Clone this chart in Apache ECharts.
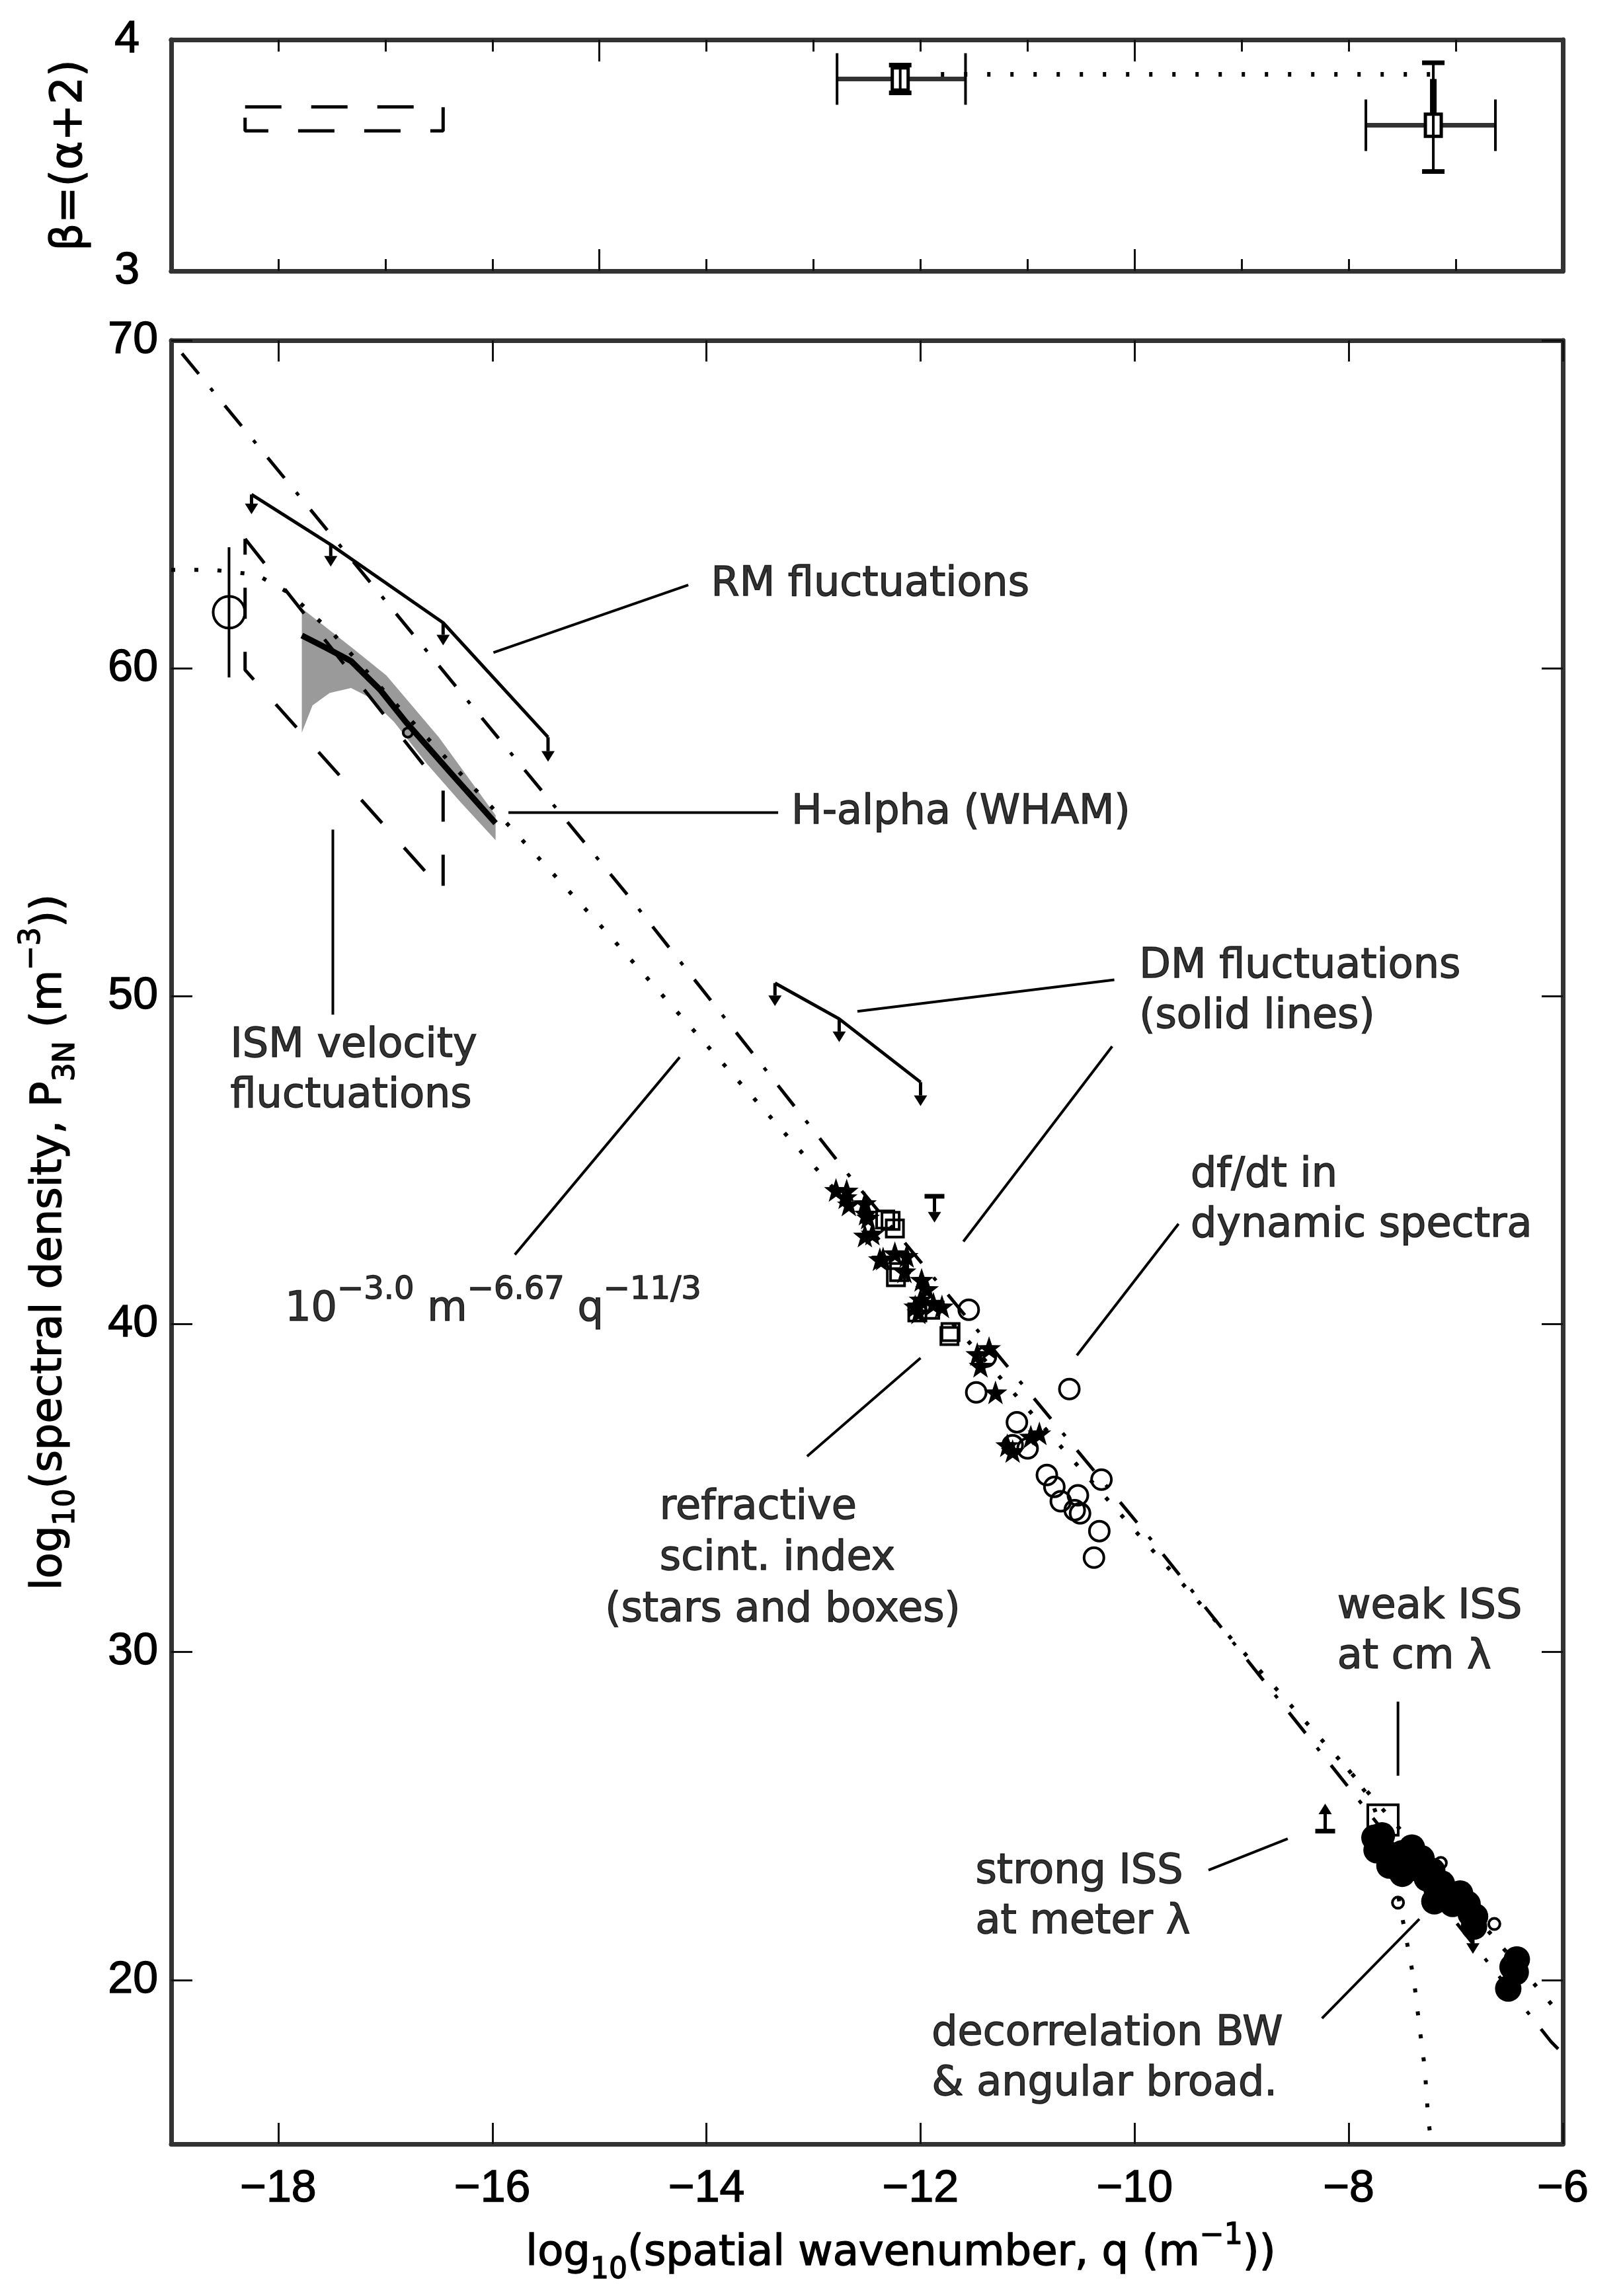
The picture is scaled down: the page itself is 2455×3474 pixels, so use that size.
<!DOCTYPE html>
<html lang="en">
<head>
<meta charset="UTF-8">
<title>Electron density power spectrum</title>
<style>
  html, body { margin: 0; padding: 0; background: #fff; }
  #main { width: 2455px; height: 3474px; }
</style>
</head>
<body>
<div id="main"></div>
<script src="https://cdn.jsdelivr.net/npm/echarts@6/dist/echarts.min.js"></script>
<script>
  const FONT_TEXT = 'DejaVu Sans';
  const FONT_TICK = 'Liberation Sans';
  const INK = '#000';

  // ---- top panel: beta = alpha + 2 ----
  const betaMinorTicks = [-18, -17, -16, -15, -14, -13, -12, -11, -10, -9, -8, -7];
  const betaMajorTicks = [-15, -10];
  const betaTickLabels = [3, 4];
  const betaIsmBox = [[-18.31, 3.709], [-16.46, 3.709], [-16.46, 3.606], [-18.31, 3.606], [-18.31, 3.709]];
  // [x, y, xLow, xHigh, yLow, yHigh]
  const betaPoints = [
    [-12.19, 3.83, -12.78, -11.58, 3.77, 3.89],
    [-7.21, 3.63, -7.84, -6.63, 3.43, 3.90]
  ];
  const betaThickBar = [[-7.21, 3.59], [-7.21, 3.83]];
  const betaDotted = [[-11.81, 3.85], [-7.24, 3.85]];

  // ---- main panel ----
  const xTicks = [-18, -16, -14, -12, -10, -8, -6];
  const yTicks = [20, 30, 40, 50, 60, 70];

  const dashDotLine = [[-18.9, 69.6], [-14.72, 53.02], [-12.65, 44.46], [-9.8, 33.25], [-6.11, 18.12], [-6.0, 17.75]];
  const kolmogorovLine = [[-19.0, 63.0], [-18.6, 63.0], [-18.2, 62.85], [-17.9, 62.3], [-17.5, 61.1], [-16.9, 58.9],
    [-15.81, 55.08], [-14.93, 51.94], [-12.92, 44.54], [-10.08, 34.01], [-8.0, 26.4], [-6.22, 19.7], [-6.0, 18.85]];
  const innerScaleLine = [[-8.0, 26.4], [-7.79, 25.5], [-7.62, 23.9], [-7.55, 22.78], [-7.47, 21.39], [-7.39, 19.98],
    [-7.34, 18.59], [-7.29, 17.32], [-7.26, 15.89], [-7.23, 15.0]];
  const ismVelocityBox = [[-18.31, 63.95], [-16.46, 56.3], [-16.46, 53.2], [-18.31, 59.95], [-18.31, 63.95]];

  const whamUpper = [[-17.78, 61.83], [-17.3, 60.6], [-16.99, 59.78], [-16.5, 57.9], [-15.97, 55.52]];
  const whamLower = [[-17.78, 58.04], [-17.68, 58.87], [-17.52, 59.25], [-17.32, 59.4], [-17.16, 59.13], [-16.92, 58.37],
    [-16.61, 57.08], [-16.3, 55.93], [-15.97, 54.76]];
  const whamSpectrum = [[-17.78, 61.0], [-17.55, 60.62], [-17.32, 60.22], [-17.05, 59.35], [-16.81, 58.37], [-16.4, 56.85], [-15.97, 55.28]];
  const whamCircle = [[-16.79, 58.04]];

  const bigCircle = [[-18.46, 61.71]];
  const bigCircleBar = [[-18.46, 59.72], [-18.46, 63.69]];

  const rmLine = [[-18.25, 65.3], [-17.51, 63.77], [-16.46, 61.39], [-15.48, 57.9]];
  const dmLine = [[-13.36, 50.4], [-12.76, 49.31], [-12.0, 47.38]];
  // [x, from, to, bar]
  const limitArrows = [
    [-18.25, 65.3, 64.7, 0], [-17.51, 63.77, 63.1, 0], [-16.46, 61.39, 60.7, 0], [-15.48, 57.9, 57.15, 0],
    [-13.36, 50.4, 49.7, 0], [-12.76, 49.31, 48.6, 0], [-12.0, 47.38, 46.65, 0],
    [-11.87, 43.9, 43.1, 1], [-6.84, 21.55, 20.8, 0], [-8.22, 24.54, 25.38, 1]
  ];

  const refractiveStars = [[-12.79, 44.09], [-12.69, 44.07], [-12.70, 43.87], [-12.67, 43.65], [-12.52, 43.69], [-12.49, 43.25],
    [-12.51, 43.37], [-12.52, 42.7], [-12.45, 42.76], [-12.38, 41.98], [-12.35, 42.0], [-12.24, 42.16], [-12.13, 42.08],
    [-12.15, 41.61], [-11.99, 41.35], [-11.94, 41.07], [-12.02, 40.36], [-12.05, 40.54], [-11.88, 40.62], [-11.80, 40.54],
    [-12.0, 40.75], [-11.44, 38.73], [-11.47, 39.09], [-11.36, 39.27], [-11.30, 37.92], [-11.14, 36.13], [-11.19, 36.31],
    [-10.97, 36.57], [-10.89, 36.67]];
  const refractiveBoxes = [[-12.33, 43.19], [-12.28, 43.15], [-12.24, 42.92], [-12.23, 41.43], [-12.2, 41.59],
    [-11.91, 40.44], [-12.03, 40.36], [-11.73, 39.64], [-11.72, 39.76]];
  const dfdtCircles = [[-11.55, 40.44], [-11.39, 39.01], [-11.48, 37.92], [-10.61, 38.02], [-11.10, 37.01], [-11.14, 36.31],
    [-11.0, 36.21], [-10.82, 35.4], [-10.75, 35.04], [-10.31, 35.26], [-10.69, 34.6], [-10.53, 34.78], [-10.51, 34.23],
    [-10.56, 34.33], [-10.33, 33.69], [-10.38, 32.88]];

  const strongIss = [[-7.76, 24.34], [-7.74, 23.96], [-7.69, 24.04], [-7.69, 24.41], [-7.62, 23.49], [-7.6, 23.71],
    [-7.5, 23.57], [-7.5, 23.87], [-7.5, 23.24], [-7.41, 24.04], [-7.36, 23.41], [-7.32, 23.71], [-7.27, 23.1],
    [-7.22, 23.33], [-7.2, 22.4], [-7.18, 22.78], [-7.13, 22.94], [-7.08, 22.64], [-7.03, 22.32], [-6.99, 22.56],
    [-6.96, 22.64], [-6.91, 22.32], [-6.89, 22.32], [-6.86, 22.01], [-6.82, 21.94], [-6.83, 21.63],
    [-6.47, 20.4], [-6.43, 20.63], [-6.44, 20.24], [-6.51, 19.74]];
  const weakIssBox = [[-7.68, 24.88]];
  const decorrelationCircles = [[-7.14, 23.57], [-6.64, 21.71], [-7.54, 22.36]];

  const annotations = [
    { text: 'RM fluctuations', at: [-13.96, 62.54] },
    { text: 'H-alpha (WHAM)', at: [-13.21, 55.6] },
    { text: 'ISM velocity\nfluctuations', at: [-18.45, 47.72] },
    { text: '10{sup|−3.0} m{sup|−6.67} q{sup|−11/3}', at: [-17.94, 40.44], lineHeight: 106 },
    { text: 'DM fluctuations\n(solid lines)', at: [-9.96, 50.14] },
    { text: 'df/dt in\ndynamic spectra', at: [-9.48, 43.77] },
    { text: 'refractive', at: [-14.44, 34.39] },
    { text: 'scint. index', at: [-14.44, 32.84] },
    { text: '(stars and boxes)', at: [-14.95, 31.27] },
    { text: 'weak ISS\nat cm λ', at: [-8.11, 30.6] },
    { text: 'strong ISS\nat meter λ', at: [-11.49, 22.52] },
    { text: 'decorrelation BW\n& angular broad.', at: [-11.9, 17.58] }
  ];
  const leaders = [
    [[-15.99, 60.48], [-14.17, 62.54]],
    [[-15.85, 55.6], [-13.33, 55.6]],
    [[-17.49, 55.08], [-17.49, 49.44]],
    [[-15.79, 42.12], [-14.25, 48.14]],
    [[-12.59, 49.54], [-10.19, 50.5]],
    [[-11.6, 42.52], [-10.21, 48.47]],
    [[-10.54, 39.05], [-9.59, 43.06]],
    [[-13.06, 35.97], [-12.0, 38.97]],
    [[-7.54, 28.49], [-7.54, 26.23]],
    [[-9.31, 23.35], [-8.57, 24.31]],
    [[-8.25, 18.83], [-7.34, 21.86]]
  ];

  const STAR = 'path://M0,-10L2.35,-3.24L9.51,-3.09L3.8,1.23L5.88,8.09L0,4L-5.88,8.09L-3.8,1.23L-9.51,-3.09L-2.35,-3.24Z';
  const minusFmt = v => (v < 0 ? '−' + Math.abs(v) : String(v));
  // a thin outline in the ink colour makes the text as heavy as the scanned original
  const heavy = { textBorderColor: INK, textBorderWidth: 1.4 };

  function line(data, lineStyle, xi, yi, z) {
    return {
      type: 'line', xAxisIndex: xi || 0, yAxisIndex: yi || 0, data: data, symbol: 'none', silent: true,
      animation: false, z: z || 3,
      lineStyle: Object.assign({ color: INK, width: 4, cap: 'butt' }, lineStyle)
    };
  }
  function markers(data, symbol, size, filled, z) {
    return {
      type: 'scatter', xAxisIndex: 0, yAxisIndex: 0, data: data, symbol: symbol, symbolSize: size,
      silent: true, animation: false, z: z || 5,
      itemStyle: filled ? { color: INK, opacity: 1 } : { color: 'rgba(0,0,0,0)', borderColor: INK, borderWidth: 4, opacity: 1 }
    };
  }

  const axisLine = { show: true, onZero: false, lineStyle: { color: '#333', width: 7 } };
  const tickLine = { color: '#111', width: 3 };
  const noLabel = { show: false };
  const tickLabel = Object.assign({ color: INK, fontFamily: FONT_TICK, fontSize: 68 }, heavy);
  const subSup = {
    sub: Object.assign({ fontSize: 44, lineHeight: 46, verticalAlign: 'bottom', fontFamily: FONT_TEXT, color: INK }, heavy),
    sup: Object.assign({ fontSize: 44, lineHeight: 44, verticalAlign: 'top', fontFamily: FONT_TEXT, color: INK }, heavy)
  };

  function xAxisOf(grid, pos, ticks, len, label, extra) {
    return Object.assign({
      gridIndex: grid, type: 'value', min: -19, max: -6, position: pos, axisLine: axisLine,
      splitLine: { show: false },
      axisTick: { show: true, inside: true, length: len, lineStyle: tickLine, customValues: ticks },
      axisLabel: label
    }, extra || {});
  }

  const chart = echarts.init(document.getElementById('main'));

  const option = {
    animation: false,
    backgroundColor: '#fff',
    grid: [
      { left: 259, right: 91, top: 60, height: 350 },
      { left: 259, right: 91, top: 515, bottom: 230 }
    ],
    xAxis: [
      xAxisOf(1, 'bottom', xTicks, 32,
        Object.assign({ customValues: xTicks, margin: 34, formatter: minusFmt }, tickLabel), {
          name: 'log{sub|10}(spatial wavenumber, q (m{sup|−1}))',
          nameLocation: 'middle', nameGap: 118,
          nameTextStyle: Object.assign({
            color: INK, fontFamily: FONT_TEXT, fontSize: 64, lineHeight: 96, padding: [0, 0, 0, 102], rich: subSup
          }, heavy)
        }),
      xAxisOf(1, 'top', xTicks, 32, noLabel),
      xAxisOf(0, 'bottom', betaMinorTicks, 18, noLabel),
      xAxisOf(0, 'bottom', betaMajorTicks, 33, noLabel),
      xAxisOf(0, 'top', betaMinorTicks, 18, noLabel),
      xAxisOf(0, 'top', betaMajorTicks, 33, noLabel)
    ],
    yAxis: [
      {
        gridIndex: 1, type: 'value', min: 15, max: 70, position: 'left', axisLine: axisLine,
        splitLine: { show: false },
        axisTick: { show: true, inside: true, length: 32, lineStyle: tickLine, customValues: yTicks },
        axisLabel: Object.assign({ customValues: yTicks, margin: 20 }, tickLabel),
        name: 'log{sub|10}(spectral density, P{sub|3N} (m{sup|−3}))',
        nameLocation: 'middle', nameRotate: 90, nameGap: 136,
        nameTextStyle: Object.assign({
          color: INK, fontFamily: FONT_TEXT, fontSize: 64, lineHeight: 96, rich: subSup
        }, heavy)
      },
      {
        gridIndex: 1, type: 'value', min: 15, max: 70, position: 'right', axisLine: axisLine,
        splitLine: { show: false },
        axisTick: { show: true, inside: true, length: 32, lineStyle: tickLine, customValues: yTicks },
        axisLabel: noLabel
      },
      {
        gridIndex: 0, type: 'value', min: 3, max: 4, position: 'left', axisLine: axisLine,
        splitLine: { show: false }, axisTick: { show: false },
        axisLabel: Object.assign({ customValues: betaTickLabels, margin: 48 }, tickLabel),
        name: 'β=(α+2)', nameLocation: 'middle', nameRotate: 90, nameGap: 120,
        nameTextStyle: Object.assign({ color: INK, fontFamily: FONT_TEXT, fontSize: 66 }, heavy)
      },
      {
        gridIndex: 0, type: 'value', min: 3, max: 4, position: 'right', axisLine: axisLine,
        splitLine: { show: false }, axisTick: { show: false }, axisLabel: noLabel
      }
    ],
    series: [
      // ---- top panel ----
      line(betaIsmBox, { type: [55, 45], width: 5 }, 2, 2),
      line(betaDotted, { type: [5, 30], width: 7 }, 2, 2),
      line(betaThickBar, { width: 10 }, 2, 2),
      {
        type: 'custom', xAxisIndex: 2, yAxisIndex: 2, silent: true, animation: false, z: 4,
        data: betaPoints,
        encode: { x: [0, 2, 3], y: [1, 4, 5] },
        renderItem: (params, api) => {
          const c = api.coord([api.value(0), api.value(1)]);
          const xl = api.coord([api.value(2), api.value(1)]);
          const xh = api.coord([api.value(3), api.value(1)]);
          const yl = api.coord([api.value(0), api.value(4)]);
          const yh = api.coord([api.value(0), api.value(5)]);
          const st = { stroke: INK, lineWidth: 4 };
          const capH = 39, capW = 17, box = 12;
          return {
            type: 'group',
            children: [
              { type: 'line', shape: { x1: xl[0], y1: c[1], x2: xh[0], y2: c[1] }, style: { stroke: '#333', lineWidth: 7 } },
              { type: 'line', shape: { x1: xl[0], y1: c[1] - capH, x2: xl[0], y2: c[1] + capH }, style: st },
              { type: 'line', shape: { x1: xh[0], y1: c[1] - capH, x2: xh[0], y2: c[1] + capH }, style: st },
              { type: 'line', shape: { x1: c[0], y1: yl[1], x2: c[0], y2: yh[1] }, style: st },
              { type: 'line', shape: { x1: c[0] - capW, y1: yl[1], x2: c[0] + capW, y2: yl[1] }, style: { stroke: INK, lineWidth: 7 } },
              { type: 'line', shape: { x1: c[0] - capW, y1: yh[1], x2: c[0] + capW, y2: yh[1] }, style: { stroke: INK, lineWidth: 7 } },
              { type: 'rect', shape: { x: c[0] - box, y: c[1] - box * 1.4, width: box * 2, height: box * 2.8 },
                style: { fill: '#fff', stroke: INK, lineWidth: 5 } },
              { type: 'line', shape: { x1: c[0], y1: c[1] - box * 1.4, x2: c[0], y2: c[1] + box * 1.4 }, style: st }
            ]
          };
        }
      },

      // ---- main panel ----
      {
        type: 'custom', xAxisIndex: 0, yAxisIndex: 0, silent: true, animation: false, z: 1,
        data: whamUpper.concat(whamLower.slice().reverse()),
        renderItem: (params, api) => {
          if (params.dataIndex !== 0) return null;
          const pts = whamUpper.concat(whamLower.slice().reverse()).map(p => api.coord(p));
          return { type: 'polygon', shape: { points: pts }, style: { fill: '#9a9a9a' } };
        }
      },
      line(whamSpectrum, { width: 9 }, 0, 0, 4),
      line(dashDotLine, { type: [40, 28, 6, 28], width: 5 }),
      line(kolmogorovLine, { type: [6, 29], width: 6 }),
      line(innerScaleLine, { type: [6, 29], width: 6 }),
      line(ismVelocityBox, { type: [47, 50], width: 5 }),
      line(rmLine, { width: 5 }),
      line(dmLine, { width: 5 }),
      line(bigCircleBar, { width: 4 }),
      markers(bigCircle, 'circle', 48, false),
      markers(whamCircle, 'circle', 14, false),
      {
        type: 'custom', xAxisIndex: 0, yAxisIndex: 0, silent: true, animation: false, z: 6,
        data: limitArrows,
        encode: { x: 0, y: [1, 2] },
        renderItem: (params, api) => {
          const base = api.coord([api.value(0), api.value(1)]);
          const tip = api.coord([api.value(0), api.value(2)]);
          const dir = tip[1] > base[1] ? 1 : -1;
          const head = 16, half = 10;
          const kids = [
            { type: 'line', shape: { x1: base[0], y1: base[1], x2: tip[0], y2: tip[1] - dir * head }, style: { stroke: INK, lineWidth: 5 } },
            { type: 'polygon', shape: { points: [[tip[0], tip[1]], [tip[0] - half, tip[1] - dir * head], [tip[0] + half, tip[1] - dir * head]] },
              style: { fill: INK } }
          ];
          if (api.value(3)) {
            kids.push({ type: 'line', shape: { x1: base[0] - 15, y1: base[1], x2: base[0] + 15, y2: base[1] }, style: { stroke: INK, lineWidth: 7 } });
          }
          return { type: 'group', children: kids };
        }
      },
      markers(refractiveStars, STAR, 36, true),
      markers(refractiveBoxes, 'rect', 26, false),
      markers(dfdtCircles, 'circle', 30, false),
      markers(strongIss, 'circle', 40, true),
      markers(weakIssBox, 'rect', 46, false),
      markers(decorrelationCircles, 'circle', 17, false)
    ].concat(leaders.map(seg => line(seg, { width: 4 }, 0, 0, 7)))
      .concat([{
        type: 'scatter', xAxisIndex: 0, yAxisIndex: 0, symbolSize: 1, silent: true, animation: false, z: 10,
        itemStyle: { color: 'rgba(0,0,0,0)' },
        data: annotations.map(a => ({
          value: a.at,
          label: a.lineHeight ? { formatter: a.text, lineHeight: a.lineHeight } : { formatter: a.text }
        })),
        label: Object.assign({
          show: true, position: 'right', distance: 0, color: INK, fontFamily: FONT_TEXT, fontSize: 62, lineHeight: 76,
          rich: {
            sup: Object.assign({ fontSize: 48, lineHeight: 50, verticalAlign: 'top', fontFamily: FONT_TEXT, color: INK }, heavy)
          }
        }, heavy)
      }])
  };

  chart.setOption(option);
</script>
</body>
</html>
